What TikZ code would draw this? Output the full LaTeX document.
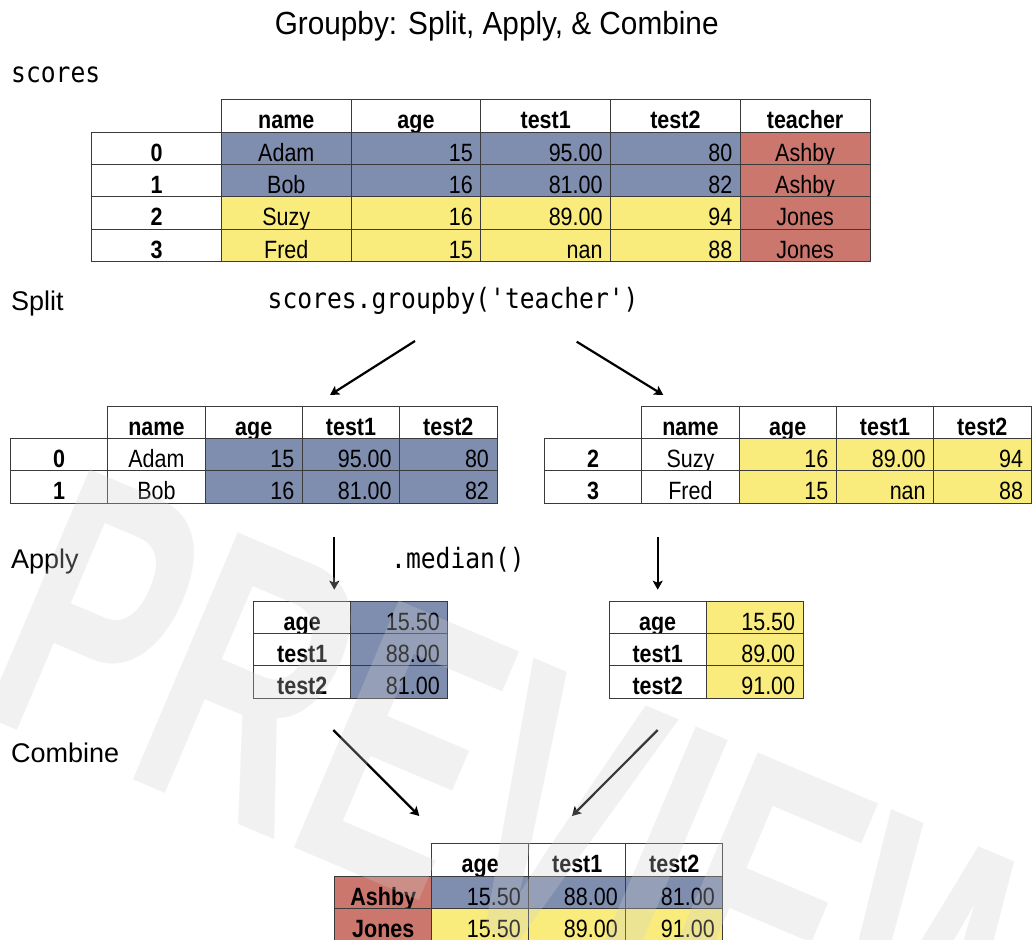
\documentclass[tikz,border=0pt]{standalone}
\usepackage{fontspec}
\setmainfont{Liberation Sans}
\newfontfamily\cellfont[FakeStretch=0.86]{Liberation Sans}
\newfontfamily\titlefont[FakeStretch=0.93]{Liberation Sans}
\newfontfamily\codefont[FakeStretch=0.88]{DejaVu Sans Mono}
\newfontfamily\markfont[FakeStretch=0.62]{Liberation Sans}
\usetikzlibrary{arrows.meta}

\definecolor{grpblue}{HTML}{7F8DAE}
\definecolor{grpyellow}{HTML}{F9EC7C}
\definecolor{grpred}{HTML}{CB776D}
\definecolor{gridline}{HTML}{3A3A3A}
\definecolor{wmgray}{RGB}{208,208,208}

\tikzset{
  cell/.style={draw=gridline, line width=0.9pt, anchor=north west,
    inner xsep=8pt, inner ysep=0pt, text height=29pt, text depth=3.3pt,
    font=\cellfont\fontsize{25}{25}\selectfont},
  wide/.style={text width=113.7pt},
  mediumw/.style={text width=81.3pt},
  narrow/.style={text width=81pt},
  num/.style={align=right},
  mid/.style={align=center},
  head/.style={mid, fill=white, font=\cellfont\bfseries\fontsize{25}{25}\selectfont},
  label/.style={anchor=base west, inner sep=0pt, font=\fontsize{27}{27}\selectfont},
  code/.style={anchor=base west, inner sep=0pt, font=\codefont\fontsize{28}{28}\selectfont},
  flow/.style={line width=2.2pt, -{Stealth[length=9pt,width=10pt,inset=2pt]}},
  watermark/.style={text=wmgray, text opacity=0.28, inner sep=0pt,
    font=\markfont\bfseries\fontsize{390}{390}\selectfont}
}

\begin{document}
\begin{tikzpicture}[x=1pt, y=-1pt]
\fill[white] (0,0) rectangle (1032,939);
\useasboundingbox (0,0) rectangle (1032,939);

% title and section labels
\node[anchor=base, inner sep=0pt, font=\titlefont\fontsize{32}{32}\selectfont] (title) at (496.7,35) {Groupby: Split, Apply, \& Combine};
\node[code] (lscores) at (11,82.7) {scores};
\node[label] (lsplit) at (11,310) {Split};
\node[code] (lgroupby) at (267.5,308) {scores.groupby('teacher')};
\node[label] (lapply) at (11,568) {Apply};
\node[code] (lmedian) at (391,568) {.median()};
\node[label] (lcombine) at (11,762.5) {Combine};

% full frame
\foreach \col/\x in {name/221.0, age/350.7, test1/480.4, test2/610.1, teacher/739.8}
  \node[cell, wide, head] (s-h-\col) at (\x,99.3) {\col};
\foreach \r/\y/\nm/\ag/\ta/\tb/\te/\c in {
    0/131.65/Adam/15/95.00/80/Ashby/grpblue,
    1/164.0/Bob/16/81.00/82/Ashby/grpblue,
    2/196.35/Suzy/16/89.00/94/Jones/grpyellow,
    3/228.7/Fred/15/nan/88/Jones/grpyellow} {
  \node[cell, wide, head] (s-\r-idx) at (91.3,\y) {\r};
  \node[cell, wide, mid, fill=\c] (s-\r-name) at (221.0,\y) {\nm};
  \node[cell, wide, num, fill=\c] (s-\r-age) at (350.7,\y) {\ag};
  \node[cell, wide, num, fill=\c] (s-\r-test1) at (480.4,\y) {\ta};
  \node[cell, wide, num, fill=\c] (s-\r-test2) at (610.1,\y) {\tb};
  \node[cell, wide, mid, fill=grpred] (s-\r-teacher) at (739.8,\y) {\te};
}

% split groups
\foreach \g/\x in {a/10, b/544} {
  \foreach \col [count=\k from 1] in {name, age, test1, test2}
    \node[cell, mediumw, head] (g\g-h-\col) at ({\x+97.3*\k},406) {\col};
}
\foreach \g/\x/\r/\y/\nm/\ag/\ta/\tb/\c in {
    a/10/0/438.2/Adam/15/95.00/80/grpblue,
    a/10/1/470.4/Bob/16/81.00/82/grpblue,
    b/544/2/438.2/Suzy/16/89.00/94/grpyellow,
    b/544/3/470.4/Fred/15/nan/88/grpyellow} {
  \node[cell, mediumw, head] (g\g-\r-idx) at (\x,\y) {\r};
  \node[cell, mediumw, mid, fill=white] (g\g-\r-name) at ({\x+97.3},\y) {\nm};
  \node[cell, mediumw, num, fill=\c] (g\g-\r-age) at ({\x+194.6},\y) {\ag};
  \node[cell, mediumw, num, fill=\c] (g\g-\r-test1) at ({\x+291.9},\y) {\ta};
  \node[cell, mediumw, num, fill=\c] (g\g-\r-test2) at ({\x+389.2},\y) {\tb};
}

% medians per group
\foreach \g/\x/\c/\va/\vb/\vc in {
    a/253.3/grpblue/15.50/88.00/81.00,
    b/608.7/grpyellow/15.50/89.00/91.00} {
  \node[cell, narrow, head] (m\g-age-k) at (\x,601) {age};
  \node[cell, narrow, num, fill=\c] (m\g-age-v) at ({\x+97},601) {\va};
  \node[cell, narrow, head] (m\g-test1-k) at (\x,633.2) {test1};
  \node[cell, narrow, num, fill=\c] (m\g-test1-v) at ({\x+97},633.2) {\vb};
  \node[cell, narrow, head] (m\g-test2-k) at (\x,665.4) {test2};
  \node[cell, narrow, num, fill=\c] (m\g-test2-v) at ({\x+97},665.4) {\vc};
}

% combined result
\foreach \col/\x in {age/431.3, test1/528.3, test2/625.3}
  \node[cell, narrow, head] (c-h-\col) at (\x,843.3) {\col};
\foreach \t/\y/\c/\va/\vb/\vc in {
    Ashby/875.8/grpblue/15.50/88.00/81.00,
    Jones/908.3/grpyellow/15.50/89.00/91.00} {
  \node[cell, narrow, head, fill=grpred] (c-\t-idx) at (334.3,\y) {\t};
  \node[cell, narrow, num, fill=\c] (c-\t-age) at (431.3,\y) {\va};
  \node[cell, narrow, num, fill=\c] (c-\t-test1) at (528.3,\y) {\vb};
  \node[cell, narrow, num, fill=\c] (c-\t-test2) at (625.3,\y) {\vc};
}

% arrow end points
\coordinate (sa0) at (415,341);     \coordinate (sa1) at (330,395);
\coordinate (sb0) at (576.7,341.7); \coordinate (sb1) at (663.3,395);
\coordinate (aa0) at (334.3,536.8); \coordinate (aa1) at (334.3,589.7);
\coordinate (ab0) at (657.7,536.8); \coordinate (ab1) at (657.7,589.7);
\coordinate (ca0) at (333.3,730);   \coordinate (ca1) at (419.3,816);
\coordinate (cb0) at (657.7,730);   \coordinate (cb1) at (572,816);

\draw[flow] (sa0) -- (sa1);
\draw[flow] (sb0) -- (sb1);
\draw[flow] (aa0) -- (aa1);
\draw[flow] (ab0) -- (ab1);
\draw[flow] (ca0) -- (ca1);
\draw[flow] (cb0) -- (cb1);

% watermark
\node[watermark, rotate=-23, anchor=base west] (wm) at (-30,710) {PREVIEW};
\end{tikzpicture}
\end{document}
